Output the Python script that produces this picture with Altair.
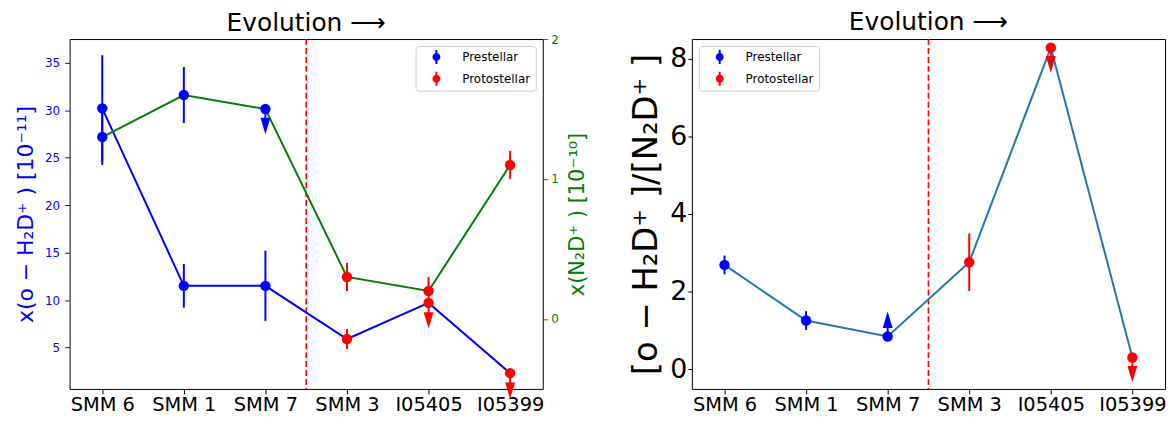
import altair as alt
import pandas as pd

# ---------------- data ----------------
cores = ["SMM 6", "SMM 1", "SMM 7", "SMM 3", "I05405", "I05399"]
core_class = ["Prestellar", "Prestellar", "Prestellar",
              "Protostellar", "Protostellar", "Protostellar"]
classes = ["Prestellar", "Protostellar"]
class_colors = ["blue", "red"]

# x(o-H2D+) [1e-11]
oh2d = [30.2, 11.5, 11.5, 5.9, 9.7, 2.3]
oh2d_err = [5.6, 2.3, 3.7, 1.05, 0, 0]
oh2d_lim = ["", "", "", "", "upper", "upper"]
oh2d_arrow = [0, 0, 0, 0, 2.7, 2.7]

# x(N2D+) [1e-10]
n2d = [1.30, 1.60, 1.50, 0.30, 0.20, 1.10]
n2d_err = [0.2, 0.2, 0, 0.1, 0.1, 0.1]
n2d_lim = ["", "", "upper", "", "", ""]
n2d_arrow = [0, 0, 0.18, 0, 0, 0]

# [o-H2D+]/[N2D+]
ratio = [2.69, 1.26, 0.85, 2.76, 8.28, 0.31]
ratio_err = [0.24, 0.24, 0, 0.74, 0, 0]
ratio_lim = ["", "", "lower", "", "upper", "upper"]
ratio_arrow = [0, 0, 0.64, 0, 0.64, 0.64]

divider = [2.5]

left_ticks = [5, 10, 15, 20, 25, 30, 35]
green_ticks = [0, 1, 2]
right_ticks = [0, 2, 4, 6, 8]

FONT = "DejaVu Sans"
W, H = 476, 352

LEGEND_SYMBOL = ("M -1 0 A 1 1 0 1 1 1 0 A 1 1 0 1 1 -1 0 Z "
                 "M -0.25 -1.75 L 0.25 -1.75 L 0.25 1.75 L -0.25 1.75 Z")
ARROW_DOWN = "M -1 -3.3 L 1 -3.3 L 0 0 Z"
ARROW_UP = "M -1 3.3 L 1 3.3 L 0 0 Z"


def frame(vals, errs, lims, arrows):
    return pd.DataFrame({
        "pos": list(range(len(cores))),
        "core": cores,
        "cls": core_class,
        "val": vals,
        "err": errs,
        "lim": lims,
        "arrow": arrows,
    })


xscale = alt.Scale(domain=[-0.4, 5.4], nice=False, zero=False)
label_js = "[" + ",".join("'%s'" % c for c in cores) + "][datum.value]"
xaxis = alt.Axis(values=list(range(len(cores))), labelExpr=label_js, title=None,
                 grid=False, domain=False, tickSize=5, tickColor="black",
                 labelColor="black", labelFontSize=19.5, labelFont=FONT,
                 labelPadding=2, labelFlush=False, labelOverlap=False)

class_scale = alt.Scale(domain=classes, range=class_colors)


def series(df, yscale, yaxis, line_color, legend=None):
    X = alt.X("pos:Q", scale=xscale, axis=xaxis)
    base = alt.Chart(df)
    line = base.mark_line(color=line_color, strokeWidth=2).encode(
        x=X, y=alt.Y("val:Q", scale=yscale, axis=yaxis))
    err = base.transform_filter("datum.err > 0").transform_calculate(
        lo="datum.val - datum.err", hi="datum.val + datum.err"
    ).mark_rule(strokeWidth=2).encode(
        x=X, y=alt.Y("lo:Q", scale=yscale, axis=yaxis), y2="hi:Q",
        stroke=alt.Stroke("cls:N", scale=class_scale, legend=None))
    lim = base.transform_filter("datum.lim != ''").transform_calculate(
        tip="datum.lim == 'upper' ? datum.val - datum.arrow : datum.val + datum.arrow",
        mid="datum.lim == 'upper' ? datum.val - 0.5*datum.arrow : datum.val + 0.5*datum.arrow")
    shaft = lim.mark_rule(strokeWidth=2).encode(
        x=X, y=alt.Y("val:Q", scale=yscale, axis=yaxis), y2="mid:Q",
        stroke=alt.Stroke("cls:N", scale=class_scale, legend=None))
    head = lim.mark_point(filled=True, size=100, opacity=1, strokeWidth=0).encode(
        x=X, y=alt.Y("tip:Q", scale=yscale, axis=yaxis),
        shape=alt.Shape("lim:N", scale=alt.Scale(domain=["upper", "lower"],
                                                 range=[ARROW_DOWN, ARROW_UP]),
                        legend=None),
        fill=alt.Fill("cls:N", scale=class_scale, legend=None))
    if legend is None:
        col = alt.Fill("cls:N", scale=class_scale, legend=None)
        pts = base.mark_point(filled=True, size=110, opacity=1, shape="circle",
                              strokeWidth=0).encode(
            x=X, y=alt.Y("val:Q", scale=yscale, axis=yaxis), fill=col)
    else:
        col = alt.Color("cls:N", scale=class_scale, legend=legend)
        pts = base.mark_point(filled=True, size=110, opacity=1, shape="circle",
                              strokeWidth=0).encode(
            x=X, y=alt.Y("val:Q", scale=yscale, axis=yaxis), color=col)
    return alt.layer(line, err, shaft, head, pts)


def legend(orient):
    return alt.Legend(title=None, orient=orient, offset=7, symbolType=LEGEND_SYMBOL,
                      symbolSize=64, symbolStrokeWidth=0, labelFontSize=12,
                      labelFont=FONT, labelColor="black", padding=5,
                      strokeColor="#cccccc", fillColor="rgba(255,255,255,0.85)",
                      cornerRadius=3, symbolOffset=10, labelOffset=20,
                      rowPadding=8)


def divider_layer():
    return alt.Chart(pd.DataFrame({"x": divider})).mark_rule(
        color="red", strokeDash=[6, 3], strokeWidth=1.6).encode(
        x=alt.X("x:Q", scale=xscale, axis=xaxis))


def title(offset):
    return alt.TitleParams("Evolution ⟶", fontSize=25, font=FONT, fontWeight="normal",
                           anchor="middle", frame="group", offset=offset, color="black")


# ----- left panel -----
left_axis = alt.Axis(orient="left", values=left_ticks, title="x(o − H₂D⁺ ) [10⁻¹¹]",
                     titleColor="blue", labelColor="blue", tickColor="blue",
                     titleFontSize=22, titleFont=FONT, titleFontWeight="normal",
                     labelFontSize=12, labelFont=FONT, tickSize=5, labelPadding=5,
                     titlePadding=7, grid=False, domain=False)
green_axis = alt.Axis(orient="right", values=green_ticks, title="x(N₂D⁺ ) [10⁻¹⁰]",
                      titleColor="green", labelColor="green", tickColor="green",
                      titleFontSize=21, titleFont=FONT, titleFontWeight="normal",
                      titleAngle=270, titleBaseline="top",
                      labelFontSize=12, labelFont=FONT, tickSize=5, labelPadding=3,
                      titlePadding=8, grid=False, domain=False)

blue_part = series(frame(oh2d, oh2d_err, oh2d_lim, oh2d_arrow),
                   alt.Scale(domain=[0.64, 37.5], nice=False, zero=False),
                   left_axis, "blue", legend("top-right"))
green_part = series(frame(n2d, n2d_err, n2d_lim, n2d_arrow),
                    alt.Scale(domain=[-0.5, 2.0], nice=False, zero=False),
                    green_axis, "green")

left = alt.layer(divider_layer(), blue_part, green_part).resolve_scale(
    y="independent").properties(width=W, height=H, title=title(-3))

# ----- right panel -----
right_axis = alt.Axis(orient="left", values=right_ticks, title="[o − H₂D⁺ ]/[N₂D⁺ ]",
                      titleColor="black", labelColor="black", tickColor="black",
                      titleFontSize=34, titleFont=FONT, titleFontWeight="normal",
                      labelFontSize=27, labelFont=FONT, tickSize=4, labelPadding=1,
                      titlePadding=6, grid=False, domain=False)
ratio_part = series(frame(ratio, ratio_err, ratio_lim, ratio_arrow),
                    alt.Scale(domain=[-0.5, 8.5], nice=False, zero=False),
                    right_axis, "#1f77b4", legend("top-left"))
right = alt.layer(divider_layer(), ratio_part).properties(width=W, height=H, title=title(3))

chart = alt.hconcat(left, right, spacing=41).resolve_scale(
    color="independent", shape="independent").configure_view(
    stroke="black", strokeWidth=1).properties(
    padding={"left": 6, "top": 0, "right": 0, "bottom": 0})

chart.save("out.html", embed_options={"renderer": "svg", "actions": False})
